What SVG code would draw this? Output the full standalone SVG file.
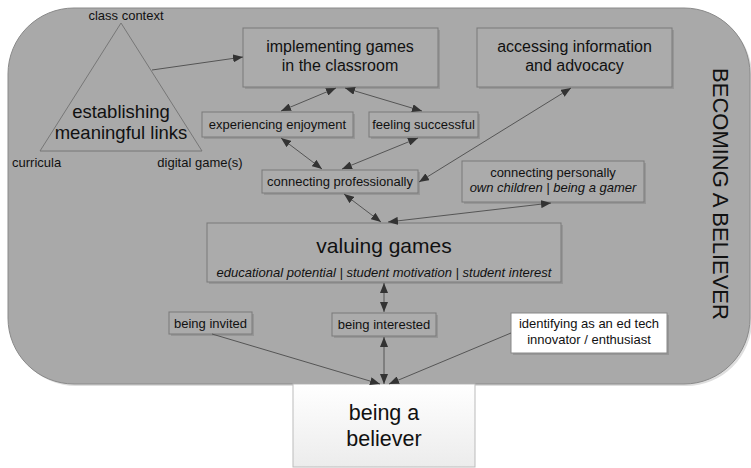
<svg xmlns="http://www.w3.org/2000/svg" width="751" height="468" viewBox="0 0 751 468">
<defs>
<marker id="ah" viewBox="0 0 10 8" refX="10" refY="4" markerWidth="10" markerHeight="8" markerUnits="userSpaceOnUse" orient="auto-start-reverse">
<path d="M0,0 L10,4 L0,8 z" fill="#333"/>
</marker>
<linearGradient id="bg" x1="0" y1="0" x2="0" y2="1">
<stop offset="0" stop-color="#ffffff"/>
<stop offset="1" stop-color="#ececec"/>
</linearGradient>
</defs>
<style>
text{font-family:"Liberation Sans",Arial,sans-serif;fill:#111;}
.box{fill:#ababab;stroke:#7a7a7a;stroke-width:1;}
.sh{fill:#969696;}
.s13{font-size:13px;text-anchor:middle;}
.s16{font-size:16px;text-anchor:middle;}
.it{font-style:italic;}
.c line{stroke:#555;stroke-width:1;}
</style>
<rect x="10" y="10" width="742" height="376" rx="66" ry="66" fill="#dedede"/>
<rect x="8" y="8" width="742" height="376" rx="66" ry="66" fill="#a9a9a9" stroke="#8a8a8a" stroke-width="1"/>

<g id="triangle">
<polygon points="121,23 40,151 202,151" fill="none" stroke="#777" stroke-width="1"/>
<text x="126" y="20" class="s13">class context</text>
<text x="12" y="167" font-size="13">curricula</text>
<text x="200" y="167" class="s13">digital game(s)</text>
<text x="121" y="118" font-size="18.5" text-anchor="middle">establishing</text>
<text x="121" y="139" font-size="18.5" text-anchor="middle">meaningful links</text>
</g>

<g id="implementing">
<rect x="245" y="30" width="195" height="59" class="sh"/>
<rect x="243" y="28" width="195" height="59" class="box"/>
<text x="340" y="52" class="s16">implementing games</text>
<text x="340" y="71" class="s16">in the classroom</text>
</g>

<g id="accessing">
<rect x="479" y="30" width="195" height="59" class="sh"/>
<rect x="477" y="28" width="195" height="59" class="box"/>
<text x="574.5" y="52" class="s16">accessing information</text>
<text x="574.5" y="71" class="s16">and advocacy</text>
</g>

<g id="experiencing">
<rect x="204" y="114" width="151" height="25" class="sh"/>
<rect x="202" y="112" width="151" height="25" class="box"/>
<text x="277.5" y="129" class="s13">experiencing enjoyment</text>
</g>

<g id="feeling">
<rect x="371" y="114" width="109" height="25" class="sh"/>
<rect x="369" y="112" width="109" height="25" class="box"/>
<text x="423.5" y="129" class="s13">feeling successful</text>
</g>

<g id="professionally">
<rect x="264" y="172" width="156" height="23" class="sh"/>
<rect x="262" y="170" width="156" height="23" class="box"/>
<text x="340" y="186" class="s13">connecting professionally</text>
</g>

<g id="personally">
<rect x="464" y="163" width="182" height="41" class="sh"/>
<rect x="462" y="161" width="182" height="41" class="box"/>
<text x="553" y="177" class="s13">connecting personally</text>
<text x="553" y="192" class="s13 it">own children | being a gamer</text>
</g>

<g id="valuing">
<rect x="209" y="225" width="354" height="59" class="sh"/>
<rect x="207" y="223" width="354" height="59" class="box"/>
<text x="384" y="253" font-size="21" text-anchor="middle">valuing games</text>
<text x="384" y="277" class="s13 it">educational potential | student motivation | student interest</text>
</g>

<g id="invited">
<rect x="171" y="314" width="83" height="22" class="sh"/>
<rect x="169" y="312" width="83" height="22" class="box"/>
<text x="210.5" y="328" class="s13">being invited</text>
</g>

<g id="interested">
<rect x="334" y="315" width="104" height="23" class="sh"/>
<rect x="332" y="313" width="104" height="23" class="box"/>
<text x="384" y="329" class="s13">being interested</text>
</g>

<g id="identifying">
<rect x="513" y="315" width="156" height="40" class="sh"/>
<rect x="511" y="313" width="156" height="40" fill="#ffffff" stroke="#888" stroke-width="1"/>
<text x="589" y="328" class="s13">identifying as an ed tech</text>
<text x="589" y="344" class="s13">innovator / enthusiast</text>
</g>

<g id="believer">
<rect x="293" y="384" width="182" height="83" fill="url(#bg)" stroke="#bbbbbb" stroke-width="1"/>
<text x="384" y="420" font-size="21.5" text-anchor="middle">being a</text>
<text x="384" y="446" font-size="21.5" text-anchor="middle">believer</text>
</g>

<g id="title">
<text transform="translate(713,194) rotate(90)" font-size="22" text-anchor="middle">BECOMING A BELIEVER</text>
</g>

<g id="connectors" class="c">
<line x1="152" y1="70" x2="243" y2="57" marker-end="url(#ah)"/>
<line x1="336" y1="88" x2="281" y2="111" marker-start="url(#ah)" marker-end="url(#ah)"/>
<line x1="345" y1="88" x2="422" y2="111" marker-start="url(#ah)" marker-end="url(#ah)"/>
<line x1="281" y1="138" x2="322" y2="169" marker-start="url(#ah)" marker-end="url(#ah)"/>
<line x1="418" y1="138" x2="342" y2="169" marker-start="url(#ah)" marker-end="url(#ah)"/>
<line x1="419" y1="182" x2="571" y2="88" marker-start="url(#ah)" marker-end="url(#ah)"/>
<line x1="344" y1="194" x2="381" y2="222" marker-start="url(#ah)" marker-end="url(#ah)"/>
<line x1="551" y1="203" x2="388" y2="222" marker-start="url(#ah)" marker-end="url(#ah)"/>
<line x1="384" y1="283" x2="384" y2="312" marker-start="url(#ah)" marker-end="url(#ah)"/>
<line x1="212" y1="334" x2="380" y2="384" marker-end="url(#ah)"/>
<line x1="384" y1="337" x2="384" y2="384" marker-start="url(#ah)" marker-end="url(#ah)"/>
<line x1="511" y1="333" x2="389" y2="384" marker-end="url(#ah)"/>
</g>
</svg>
